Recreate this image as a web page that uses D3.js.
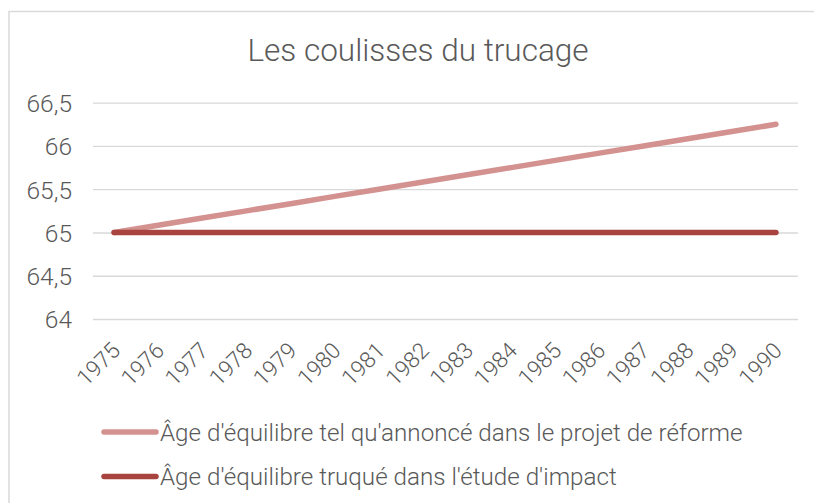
<!DOCTYPE html>
<html>
<head>
<meta charset="utf-8">
<script src="https://cdn.jsdelivr.net/npm/d3@7"></script>
<style>
  body { margin: 0; background: #fff; }
  text { font-family: "Roboto Light", Roboto, "Open Sans", sans-serif; font-weight: 300; fill: #595959; }
</style>
</head>
<body>
<div id="chart"></div>
<script>
// chart data
var years = ["1975","1976","1977","1978","1979","1980","1981","1982",
             "1983","1984","1985","1986","1987","1988","1989","1990"];
var annonce = [65, 65.083, 65.167, 65.25, 65.333, 65.417, 65.5, 65.583,
               65.667, 65.75, 65.833, 65.917, 66, 66.083, 66.167, 66.25];
var truque = [65, 65, 65, 65, 65, 65, 65, 65, 65, 65, 65, 65, 65, 65, 65, 65];
var yTicks = [64, 64.5, 65, 65.5, 66, 66.5];
var seriesNames = ["Âge d'équilibre tel qu'annoncé dans le projet de réforme",
                   "Âge d'équilibre truqué dans l'étude d'impact"];
var seriesColors = ["#d39290", "#a9433f"];

var width = 814, height = 503;
var font = "'Roboto Light', Roboto, sans-serif";

var svg = d3.select("#chart").append("svg")
    .attr("width", width)
    .attr("height", height);

// frame
svg.append("rect")
    .attr("x", 9).attr("y", 11.5)
    .attr("width", 820).attr("height", 520)
    .style("fill", "none")
    .style("stroke", "#d9d9d9")
    .style("stroke-width", 1.5);

// title
svg.append("text")
    .attr("x", 418).attr("y", 61)
    .attr("text-anchor", "middle")
    .style("font-size", "31.5px")
    .text("Les coulisses du trucage");

var x = d3.scalePoint()
    .domain(years)
    .range([92, 798])
    .padding(0.5);

var y = d3.scaleLinear()
    .domain([64, 66.5])
    .range([319, 102.7]);

// gridlines + y labels
var yAxis = d3.axisLeft(y)
    .tickValues(yTicks)
    .tickSize(-(798 - 93))
    .tickPadding(21)
    .tickFormat(function(d) { return d3.format(".1~f")(d).replace(".", ","); });

var gy = svg.append("g")
    .attr("transform", "translate(93,0)")
    .call(yAxis);
gy.select(".domain").remove();
gy.selectAll(".tick line")
    .style("stroke", "#d9d9d9")
    .style("stroke-width", 1.3);
gy.selectAll(".tick text")
    .style("font-size", "24.5px")
    .style("font-family", font)
    .style("fill", "#595959")
    .attr("dy", "0.36em");

// x labels
var xAxis = d3.axisBottom(x).tickSize(0).tickPadding(0);
var gx = svg.append("g")
    .attr("transform", "translate(0,319)")
    .call(xAxis);
gx.select(".domain").remove();
gx.selectAll(".tick text")
    .style("font-size", "22.5px")
    .style("font-family", font)
    .style("fill", "#595959")
    .attr("text-anchor", "end")
    .attr("y", 0)
    .attr("dy", 0)
    .attr("transform", "translate(7,33) rotate(-45)");

// lines
var line = d3.line()
    .x(function(d, i) { return x(years[i]); })
    .y(function(d) { return y(d); });

[annonce, truque].forEach(function(values, i) {
    svg.append("path")
        .datum(values)
        .attr("d", line)
        .style("fill", "none")
        .style("stroke", seriesColors[i])
        .style("stroke-width", 5.5)
        .style("stroke-linecap", "round")
        .style("stroke-linejoin", "round");
});

// legend
var legend = svg.selectAll(".legend")
    .data(seriesNames)
  .enter().append("g")
    .attr("class", "legend")
    .attr("transform", function(d, i) { return "translate(0," + (432 + i * 44.5) + ")"; });

legend.append("line")
    .attr("x1", 104).attr("x2", 156)
    .attr("y1", 0).attr("y2", 0)
    .style("stroke", function(d, i) { return seriesColors[i]; })
    .style("stroke-width", 5.5)
    .style("stroke-linecap", "round");

legend.append("text")
    .attr("x", 160).attr("y", 0)
    .attr("dy", "0.36em")
    .style("font-size", "24.2px")
    .text(function(d) { return d; });
</script>
</body>
</html>
